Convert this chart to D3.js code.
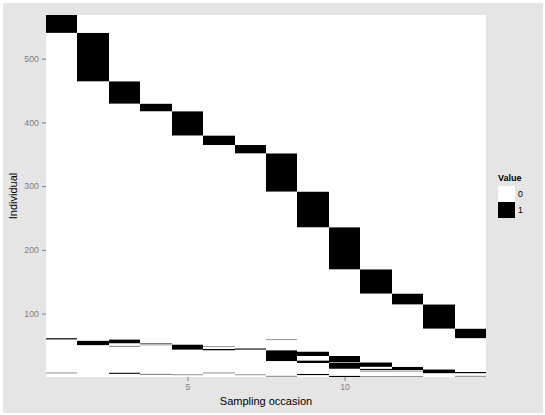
<!DOCTYPE html>
<html>
<head>
<meta charset="utf-8">
<script src="https://cdn.jsdelivr.net/npm/d3@7/dist/d3.min.js"></script>
<style>
  body { margin: 0; background: #ffffff; }
  svg { display: block; font-family: "Liberation Sans", Arial, Helvetica, sans-serif; }
</style>
</head>
<body>
<script>
// Capture histories: 568 individuals over 14 sampling occasions.
const occasions = d3.range(1, 15);
const nIndividuals = 568;

// Each entry: individuals captureFrom..captureTo were captured (value 1) at captureOccasion.
// Every other individual/occasion cell is 0.
const captureOccasion = [
  1, 2, 3, 4, 5, 6, 7, 8, 9, 10, 11, 12, 13, 14,
  1, 1,
  2,
  3, 3, 3,
  4, 4, 4,
  5, 5,
  6, 6, 6,
  7, 7,
  8, 8, 8,
  9, 9, 9,
  10, 10, 10,
  11, 11, 11, 11,
  12, 12, 12,
  13,
  14, 14
];
const captureFrom = [
  541, 465, 430, 418, 380, 365, 352, 292, 236, 170, 132, 115, 77, 62,
  60, 7,
  51,
  54, 49, 6,
  51, 53, 5,
  44, 4,
  48, 43, 7,
  44, 4,
  59, 26, 2,
  34, 23, 4,
  24, 14, 1,
  17, 12, 10, 1,
  12, 10, 1,
  7,
  7, 2
];
const captureTo = [
  568, 540, 464, 429, 417, 379, 364, 351, 291, 235, 169, 131, 114, 76,
  61, 7,
  57,
  59, 49, 7,
  51, 53, 5,
  51, 4,
  48, 44, 7,
  45, 4,
  59, 42, 2,
  40, 26, 5,
  33, 22, 2,
  23, 13, 10, 1,
  16, 10, 1,
  12,
  8, 2
];

const yTicks = [100, 200, 300, 400, 500];
const xTicks = [5, 10];
const legendValues = [0, 1];
const legendTitle = "Value";
const xTitle = "Sampling occasion";
const yTitle = "Individual";

// Full individual x occasion matrix built from the encounter list
const matrix = occasions.map(() => new Array(nIndividuals + 1).fill(0));
captureOccasion.forEach((occ, j) => {
  for (let i = captureFrom[j]; i <= captureTo[j]; i++) matrix[occ - 1][i] = 1;
});

// Cells of a column that share a value are drawn as one tile so no seams appear
const tiles = [];
occasions.forEach((occ, k) => {
  let start = 1;
  for (let i = 2; i <= nIndividuals + 1; i++) {
    if (i > nIndividuals || matrix[k][i] !== matrix[k][start]) {
      tiles.push({ occasion: occ, from: start, to: i - 1, value: matrix[k][start] });
      start = i;
    }
  }
});

const width = 545, height = 415;
const panel = { left: 46, right: 486, top: 15, bottom: 377 };

const svg = d3.select("body").append("svg")
  .attr("width", width).attr("height", height);

// Plot background
svg.append("rect")
  .attr("x", 3).attr("y", 3)
  .attr("width", width - 5).attr("height", height - 5)
  .attr("fill", "#e5e5e5");

const x = d3.scaleLinear().domain([0.5, occasions.length + 0.5]).range([panel.left, panel.right]);
const y = d3.scaleLinear().domain([0.5, nIndividuals + 0.5]).range([panel.bottom, panel.top]);
const fill = d3.scaleOrdinal().domain(legendValues).range(["#ffffff", "#000000"]);

// Column edges snapped to whole pixels so neighbouring columns meet cleanly
const colLeft = occ => Math.round(x(occ - 0.5));
const colRight = occ => Math.round(x(occ + 0.5));

svg.append("g")
  .selectAll("rect")
  .data(tiles)
  .join("rect")
  .attr("x", d => colLeft(d.occasion))
  .attr("width", d => colRight(d.occasion) - colLeft(d.occasion))
  .attr("y", d => y(d.to + 0.5))
  .attr("height", d => y(d.from - 0.5) - y(d.to + 0.5))
  .attr("fill", d => fill(d.value));

// Axes
const axisColor = "#7f7f7f";
const xAxis = svg.append("g")
  .attr("transform", `translate(0,${panel.bottom})`)
  .call(d3.axisBottom(x).tickValues(xTicks).tickSize(4).tickPadding(3));
const yAxis = svg.append("g")
  .attr("transform", `translate(${panel.left},0)`)
  .call(d3.axisLeft(y).tickValues(yTicks).tickSize(4).tickPadding(3));
[xAxis, yAxis].forEach(g => {
  g.select(".domain").remove();
  g.selectAll(".tick line").attr("stroke", axisColor);
  g.selectAll(".tick text")
    .attr("fill", axisColor)
    .style("font-size", "8.8px")
    .style("font-family", "'Liberation Sans', Arial, sans-serif");
});

// Axis titles
svg.append("text")
  .attr("x", (panel.left + panel.right) / 2)
  .attr("y", 405)
  .attr("text-anchor", "middle")
  .style("font-size", "11px")
  .attr("fill", "#000")
  .text(xTitle);

svg.append("text")
  .attr("transform", `translate(17,${(panel.top + panel.bottom) / 2}) rotate(-90)`)
  .attr("text-anchor", "middle")
  .style("font-size", "11px")
  .attr("fill", "#000")
  .text(yTitle);

// Legend
const legend = svg.append("g").attr("transform", "translate(498,186)");
const keySize = 16;
legend.append("text")
  .attr("x", 0).attr("y", -5)
  .style("font-size", "9px")
  .style("font-weight", "bold")
  .text(legendTitle);
const keys = legend.selectAll("g.key")
  .data(legendValues)
  .join("g")
  .attr("class", "key")
  .attr("transform", (d, i) => `translate(0,${i * keySize})`);
keys.append("rect")
  .attr("width", 17).attr("height", keySize)
  .attr("fill", d => fill(d));
keys.append("text")
  .attr("x", 20).attr("y", keySize / 2)
  .attr("dy", "0.35em")
  .style("font-size", "8.8px")
  .attr("fill", "#000")
  .text(d => d);
</script>
</body>
</html>
